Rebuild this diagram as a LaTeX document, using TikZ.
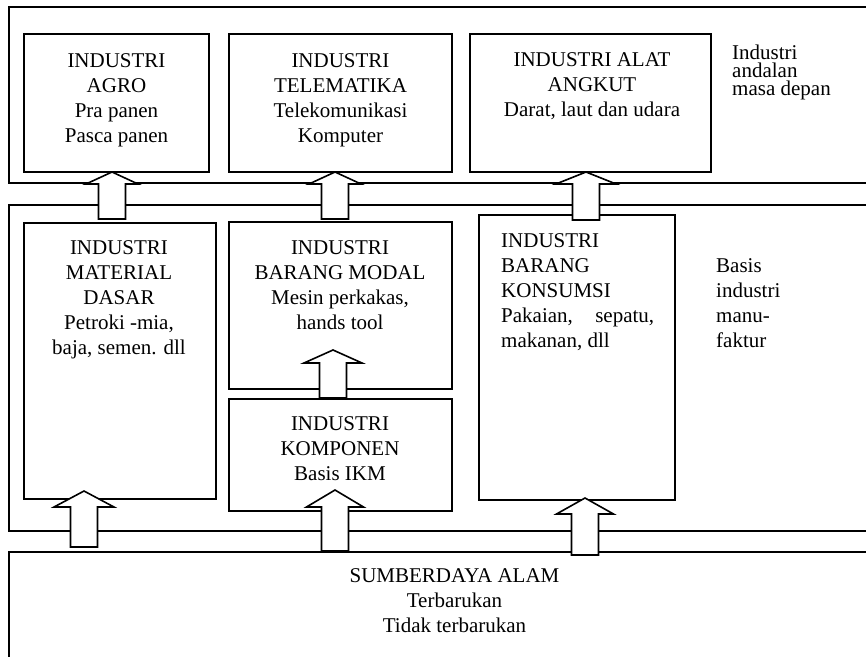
\documentclass[tikz,border=0pt]{standalone}
\usepackage{fontspec}
\setmainfont{Liberation Serif}
\usetikzlibrary{calc}
\begin{document}
\begin{tikzpicture}[x=1pt,y=-1pt,
  boxframe/.style={draw, line width=1.8pt, rectangle, inner sep=0pt, outer sep=0pt, anchor=north west},
  txt/.style={inner sep=0pt, font=\fontsize{21}{25}\selectfont, align=center, anchor=north},
  sidetxt/.style={inner sep=0pt, align=left, anchor=north west},
  blk/.style={draw, fill=white, line width=1.6pt, line join=miter},
  pics/upblock/.style n args={3}{code={
    \draw[blk] (0,0) -- (#2,#1) -- (13.5,#1) -- (13.5,#3) -- (-13.5,#3)
      -- (-13.5,#1) -- (-#2,#1) -- cycle;}}
]
\useasboundingbox (0,0) rectangle (866,656);
\clip (0,0) rectangle (866,656);

% three horizontal bands, open towards the right edge
\node[boxframe, minimum width=891, minimum height=176] (bandtop) at (9,7) {};
\node[boxframe, minimum width=891, minimum height=326] (bandmid) at (9,205) {};
\node[boxframe, minimum width=891, minimum height=200] (sda) at (9,552) {};

% industry boxes
\node[boxframe, minimum width=185, minimum height=138] (agro) at (24,34) {};
\node[boxframe, minimum width=223, minimum height=138] (tele) at (229,34) {};
\node[boxframe, minimum width=241, minimum height=138] (angkut) at (470,34) {};
\node[boxframe, minimum width=192, minimum height=276] (material) at (24,223) {};
\node[boxframe, minimum width=223, minimum height=167] (modal) at (229,222) {};
\node[boxframe, minimum width=223, minimum height=112] (komponen) at (229,399) {};
\node[boxframe, minimum width=196, minimum height=285] (konsumsi) at (479,215) {};

% hollow block arrows
\pic at ($(agro.south)+(-4.5,0)$) {upblock={12}{26}{47}};
\pic at ($(tele.south)+(-5.5,0)$) {upblock={12}{26}{47}};
\pic at ($(angkut.south)+(-4.5,0)$) {upblock={12}{30}{48}};
\pic at ($(modal.south)+(-7.5,-39)$) {upblock={13}{29}{48}};
\pic at ($(material.south)+(-36,-8)$) {upblock={16}{30}{56}};
\pic at ($(komponen.south)+(-5.5,-21)$) {upblock={17}{28.5}{61}};
\pic at ($(konsumsi.south)+(8,-2)$) {upblock={16}{28.5}{57}};

% box texts
\node[txt] (agrotxt) at ($(agro.north)+(0,19)$) {INDUSTRI\\AGRO\\Pra panen\\Pasca panen};
\node[txt] (teletxt) at ($(tele.north)+(0,19)$) {INDUSTRI\\TELEMATIKA\\Telekomunikasi\\Komputer};
\node[txt] (angkuttxt) at ($(angkut.north)+(1.5,18)$) {INDUSTRI ALAT\\ANGKUT\\Darat, laut dan udara};
\node[txt] (materialtxt) at ($(material.north)+(-1,17)$) {INDUSTRI\\MATERIAL\\DASAR\\Petroki -mia,\\baja, semen. dll};
\node[txt] (modaltxt) at ($(modal.north)+(-0.5,18)$) {INDUSTRI\\BARANG MODAL\\Mesin perkakas,\\hands tool};
\node[txt] (komponentxt) at ($(komponen.north)+(-0.5,17)$) {INDUSTRI\\KOMPONEN\\Basis IKM};
\node[txt, sidetxt] (konsumsitxt) at ($(konsumsi.north west)+(22,18)$)
  {INDUSTRI\\BARANG\\KONSUMSI\\\makebox[153pt][s]{Pakaian, sepatu,}\\makanan, dll};
\node[txt] (sdatxt) at ($(sda.north)+(0,16)$)
  {\fontsize{21}{24}\selectfont SUMBERDAYA ALAM\\Terbarukan\\Tidak terbarukan};

% band captions
\node[txt, sidetxt, font=\fontsize{21}{18}\selectfont] (toptxt) at ($(bandtop.north west)+(723,38)$)
  {Industri\\andalan\\masa depan};
\node[txt, sidetxt] (midtxt) at ($(bandmid.north west)+(707,53)$)
  {Basis\\industri\\manu-\\faktur};
\end{tikzpicture}
\end{document}
